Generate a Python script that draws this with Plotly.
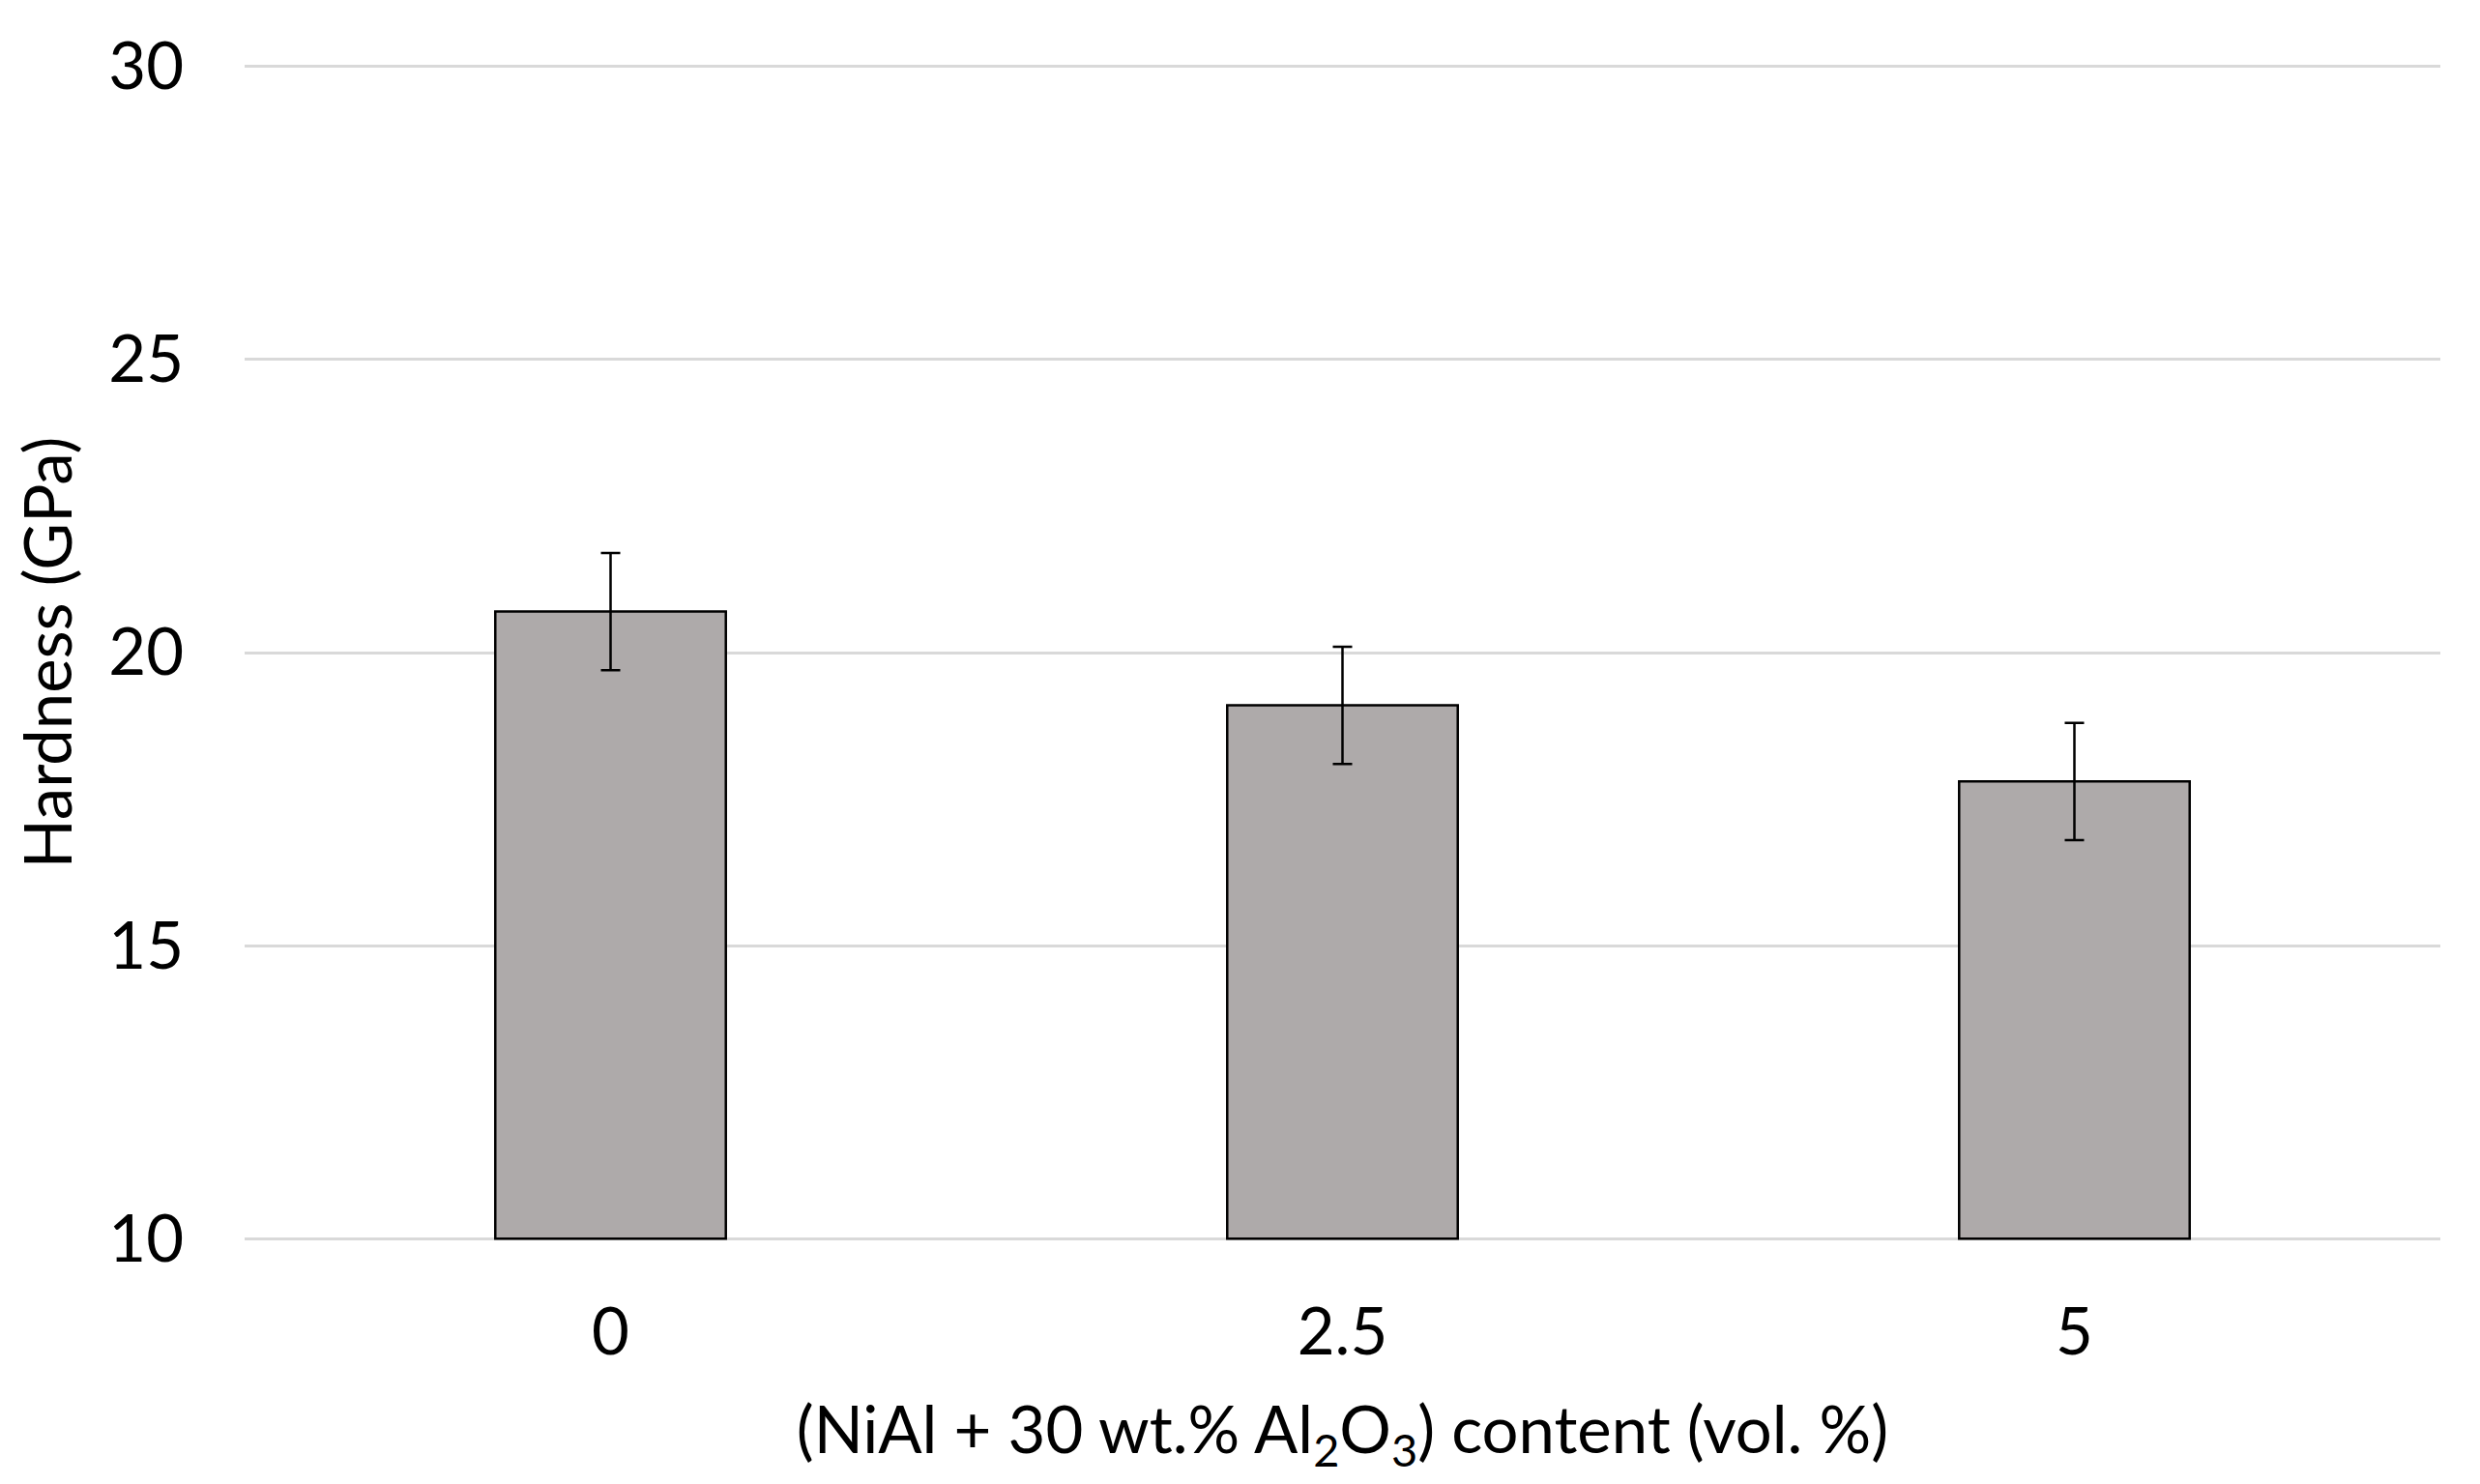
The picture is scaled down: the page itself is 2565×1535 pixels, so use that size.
import plotly.graph_objects as go

categories = ["0", "2.5", "5"]
hardness = [20.7, 19.1, 17.8]
hardness_err = [1.0, 1.0, 1.0]
y_ticks = [10, 15, 20, 25, 30]

FONT = "Lato"
FS = 67
GRID = "#D9D9D9"

fig = go.Figure()
fig.add_trace(go.Bar(
    x=categories,
    y=[v - 10 for v in hardness],
    base=10,
    marker=dict(color="#AEAAAA", line=dict(color="#000000", width=2.5)),
    error_y=dict(type="data", array=hardness_err, visible=True,
                 color="#000000", thickness=2.5, width=10),
    showlegend=False,
))

fig.update_layout(
    width=2549, height=1519,
    paper_bgcolor="white", plot_bgcolor="white",
    margin=dict(l=245, r=33, t=59, b=244, autoexpand=False),
    bargap=0.685,
    font=dict(family=FONT, size=FS, color="#000000"),
    xaxis=dict(
        type="category",
        showline=False, showgrid=False, zeroline=False,
        ticks="", ticklabelstandoff=50,
        tickfont=dict(family=FONT, size=FS),
        title=dict(text="(NiAl + 30 wt.% Al<sub>2</sub>O<sub>3</sub>) content (vol. %)",
                   font=dict(family=FONT, size=FS), standoff=42),
        automargin=False,
    ),
    yaxis=dict(
        range=[9.97, 30.03], tickvals=y_ticks,
        showline=False, zeroline=False,
        showgrid=True, gridcolor=GRID, gridwidth=2.5,
        ticks="", ticklabelstandoff=62,
        tickfont=dict(family=FONT, size=FS),
        title=dict(text="Hardness (GPa)", font=dict(family=FONT, size=FS), standoff=20),
        automargin=False,
    ),
)

fig.write_html("out.html")
